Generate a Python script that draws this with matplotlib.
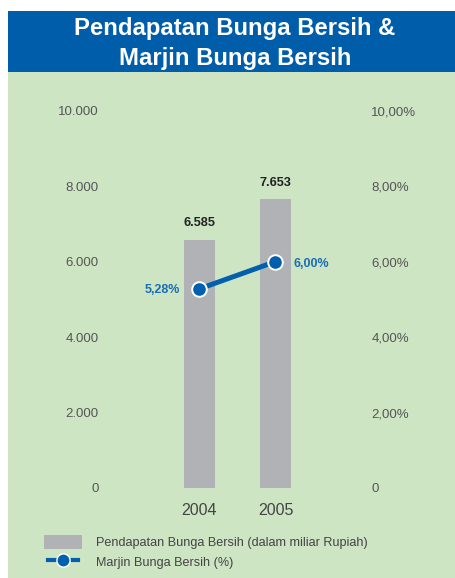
import matplotlib
matplotlib.use("Agg")
import matplotlib.pyplot as plt
from matplotlib.patches import Rectangle, Patch
from matplotlib.lines import Line2D
from matplotlib.legend_handler import HandlerLine2D

plt.rcParams['font.family'] = ['Liberation Sans', 'DejaVu Sans']

# ---- data ----
years = ["2004", "2005"]
income = [6585, 7653]                    # Pendapatan Bunga Bersih (miliar Rupiah)
income_labels = ["6.585", "7.653"]
margin = [5.28, 6.00]                    # Marjin Bunga Bersih (%)
margin_labels = ["5,28%", "6,00%"]
left_ticks = [0, 2000, 4000, 6000, 8000, 10000]
left_tick_labels = ["0", "2.000", "4.000", "6.000", "8.000", "10.000"]
right_ticks = [0, 2, 4, 6, 8, 10]
right_tick_labels = ["0", "2,00%", "4,00%", "6,00%", "8,00%", "10,00%"]
title_lines = ["Pendapatan Bunga Bersih &", "Marjin Bunga Bersih"]
legend_labels = ["Pendapatan Bunga Bersih (dalam miliar Rupiah)", "Marjin Bunga Bersih (%)"]

# ---- style ----
W, H = 456, 578
GREEN = "#CEE5C4"
BLUE_HDR = "#005DAA"
BAR = "#B1B2B6"
LINE = "#0060AE"
TICK = "#555555"

fig = plt.figure(figsize=(W / 100, H / 100), dpi=100)
fig.patch.set_facecolor("white")

def fx(px):
    return px / W

def fy(py):
    return 1 - py / H

# background panels
fig.patches.append(Rectangle((fx(8), fy(578)), fx(456) - fx(8), fy(72) - fy(578),
                             transform=fig.transFigure, facecolor=GREEN, edgecolor="none", zorder=-10))
fig.patches.append(Rectangle((fx(8), fy(72)), fx(456) - fx(8), fy(11) - fy(72),
                             transform=fig.transFigure, facecolor=BLUE_HDR, edgecolor="none", zorder=-10))
fig.text(fx(235), fy(29), title_lines[0], color="white", fontsize=17.2, fontweight="bold",
         ha="center", va="center")
fig.text(fx(235), fy(58), title_lines[1], color="white", fontsize=17.2, fontweight="bold",
         ha="center", va="center")

# axes: x from 100 to 370 px, y 0 at 488 px, 10000 at 110.7 px
ax_left, ax_right = 100, 370
ax_bot, ax_top = 488, 110.7
ax = fig.add_axes([fx(ax_left), fy(ax_bot), fx(ax_right) - fx(ax_left), fy(ax_top) - fy(ax_bot)])
ax.set_facecolor("none")
x = [0, 1]
ppu = 76.0
ax.set_xlim(-(199.5 - ax_left) / ppu, 1 + (ax_right - 275.5) / ppu)
ax.set_ylim(0, 10000)
ax.bar(x, income, width=31 / ppu, color=BAR, zorder=2)
for xi, v, lab in zip(x, income, income_labels):
    ax.annotate(lab, (xi, v), xytext=(0, 7.5), textcoords="offset points",
                ha="center", va="bottom", fontsize=9.2, fontweight="bold", color="#222222")

ax.set_yticks(left_ticks)
ax.set_yticklabels(left_tick_labels)
ax.set_xticks(x)
ax.set_xticklabels(years)
ax.tick_params(axis="y", length=0, pad=1, labelsize=9.5, labelcolor=TICK)
ax.tick_params(axis="x", length=0, pad=11, labelsize=11.5, labelcolor="#444444")
for lbl in ax.get_xticklabels():
    lbl.set_x(lbl.get_position()[0])
for s in ax.spines.values():
    s.set_visible(False)

ax2 = ax.twinx()
ax2.set_ylim(0, 10)
ax2.set_yticks(right_ticks)
ax2.set_yticklabels(right_tick_labels)
ax2.tick_params(axis="y", length=0, pad=1, labelsize=9.5, labelcolor=TICK)
for s in ax2.spines.values():
    s.set_visible(False)
ax2.plot(x, margin, color=LINE, linewidth=3.6, marker="o", markersize=10.5,
         markerfacecolor=LINE, markeredgecolor="white", markeredgewidth=1.4, zorder=3)
ax2.annotate(margin_labels[0], (x[0], margin[0]), xytext=(-14, -1), textcoords="offset points",
             ha="right", va="center", fontsize=9, fontweight="bold", color="#1A6EB4")
ax2.annotate(margin_labels[1], (x[1], margin[1]), xytext=(13, -2), textcoords="offset points",
             ha="left", va="center", fontsize=9, fontweight="bold", color="#1A6EB4")


class ShortLine(HandlerLine2D):
    def create_artists(self, legend, orig_handle, xdescent, ydescent, width, height,
                       fontsize, trans):
        shrink = width * 0.1
        return super().create_artists(legend, orig_handle, xdescent - shrink, ydescent,
                                      width - 2 * shrink, height, fontsize, trans)


# legend
line_handle = Line2D([], [], color=LINE, linewidth=3.0, marker="o", markersize=9.5,
                     markerfacecolor=LINE, markeredgecolor="white", markeredgewidth=1.0)
handles = [Patch(facecolor=BAR, edgecolor="none"), line_handle]
fs = 9.1
fig.legend(handles, legend_labels, loc="upper left", bbox_to_anchor=(fx(44), fy(535)),
           frameon=False, fontsize=fs, labelcolor="#444444", handlelength=3.0,
           handleheight=1.3, handletextpad=1.1, labelspacing=0.45, borderpad=0,
           borderaxespad=0, handler_map={line_handle: ShortLine()})

fig.savefig("out.png", dpi=100, facecolor=fig.get_facecolor())
